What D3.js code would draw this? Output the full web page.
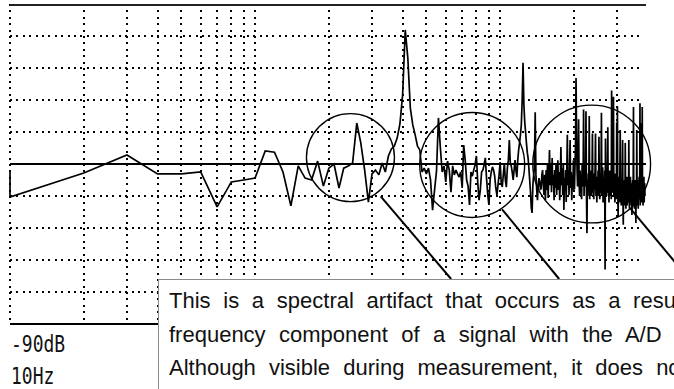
<!DOCTYPE html>
<html><head><meta charset="utf-8">
<script src="https://cdn.jsdelivr.net/npm/d3@7"></script>
<style>html,body{margin:0;padding:0;background:#fff;overflow:hidden}</style>
</head><body><svg id="c" width="674" height="389"></svg>
<script>
// ---- data ----
const binHz = 10;               // FFT bin spacing; bin i is at i*binHz (0 Hz drawn at left edge)
const levelsDb = [
 -41.9,-50.3,-42.8,-37.2,-43.1,-43.1,-42.5,-53.4,-45.6,-45.0,
 -44.4,-35.9,-36.3,-42.5,-53.1,-40.6,-44.4,-45.0,-39.1,-46.9,
 -41.3,-40.0,-47.5,-41.3,-40.6,-39.7,-27.2,-33.4,-41.9,-51.9,
 -43.1,-41.9,-43.4,-39.7,-42.5,-37.5,-35.3,-34.4,-31.9,-27.5,
 -18.4,1.9,-6.9,-22.5,-27.8,-30.9,-34.4,-35.6,-42.5,-41.3,
 -43.1,-41.3,-45.0,-54.4,-48.1,-42.2,-25.6,-34.7,-42.5,-40.6,
 -45.6,-39.1,-41.9,-48.8,-40.6,-43.4,-41.9,-43.1,-44.1,-42.5,
 -47.5,-34.1,-38.8,-45.0,-46.9,-52.8,-42.5,-43.8,-41.9,-40.3,
 -37.5,-45.6,-51.3,-48.1,-42.5,-41.9,-40.3,-38.1,-44.4,-49.7,
 -52.8,-45.0,-42.5,-40.9,-41.9,-43.8,-47.5,-49.7,-46.6,-43.4,
 -39.4,-45.9,-47.2,-43.4,-39.7,-45.0,-47.2,-41.3,-38.8,-32.5,
 -39.7,-40.6,-42.5,-45.0,-41.9,-38.8,-41.9,-44.1,-38.8,-35.6,
 -33.4,-30.9,-27.8,-20.0,-8.4,-21.6,-26.9,-30.0,-33.4,-36.3,
 -38.1,-41.3,-45.0,-48.8,-53.8,-55.3,-46.6,-43.4,-41.3,-23.8,
 -43.8,-48.1,-51.3,-46.6,-44.4,-45.6,-48.1,-47.5,-43.4,-41.9,
 -46.6,-49.7,-43.4,-51.3,-41.9,-48.1,-40.3,-50.6,-43.4,-35.6,
 -46.6,-40.3,-48.8,-38.1,-46.6,-43.4,-51.3,-41.9,-47.5,-40.3,
 -49.7,-44.4,-38.8,-48.1,-42.5,-51.3,-45.0,-34.7,-46.6,-41.3,
 -49.7,-39.7,-54.4,-44.4,-48.1,-41.9,-51.9,-43.4,-30.9,-46.6,
 -41.9,-49.7,-41.3,-32.5,-47.5,-42.5,-51.3,-43.4,-48.1,-38.8,
 -45.0,-48.0,-41.0,-34.0,-13.1,-30.0,-42.0,-47.0,-44.0,-26.0,
 -46,-50,-42,-49,-44,-51,-40,-47,-45,-23,
 -50,-42,-47,-44,-23.5,-49,-61.6,-45,-50,-43,
 -47,-25,-51,-44,-48,-42,-50,-45,-30.5,-49,
 -43,-51,-46,-48,-41,-30.5,-50,-44,-52,-45,
 -48,-42,-50,-31.5,-46,-51,-43,-49,-44,-24,
 -50,-45,-41,-52,-47,-44,-51,-42,-73,-32,
 -48,-43,-50,-45,-41,-28.5,-49,-44,-52,-46,
 -42,-50,-47,-44,-51,-17,-45,-49,-43,-48,
 -19,-50,-44,-47,-52,-43,-49,-46,-51,-27,
 -45,-22,-48,-56.5,-44,-50,-46,-52,-43,-29.4,
 -49,-45,-53,-47,-50,-44,-32.5,-51,-59,-46,
 -52,-48,-45,-53,-33.4,-49,-54,-46,-51,-44,
 -53,-47,-50,-45,-52,-32.5,-48,-54,-46,-51,
 -44,-52,-48,-53,-46,-55.9,-50,-45,-53,-47,
 -22.2,-51,-46,-54,-48,-52,-45,-50,-58.4,-47,
 -53,-29.4,-48,-52,-45,-50,-54,-46,-51,-44,
 -50,-47,-21,-53,-46,-51,-48,-44,-27.2,-52,
 -22.2,-49,-45,-53,-47,-50,-44,-52,-48,-46,
 -50
];
const freqDomainHz = [10, 3900];
const levelDomainDb = [-90, 10];
const freqGridHz = [10,20,30,40,50,60,70,80,90,100,200,300,400,500,600,700,800,900,1000,2000,3000];
const levelGridDb = [0,-10,-20,-30,-50,-60,-70,-80];
const referenceDb = -40;
const cornerLabels = ["-90dB", "10Hz"];
const noteLines = [
 "This is a spectral artifact that occurs as a result of sampling the high",
 "frequency component of a signal with the A/D converter.",
 "Although visible during measurement, it does not exist in the signal."
];
// annotation circles: centre (Hz, dB), radius (dB), leader angle (deg), leader end (Hz on box top)
const circleCentreHz = [245, 769, 2363];
const circleCentreDb = [-38.0, -40.3, -40.0];
const circleRadiusDb = [13.75, 16.4, 18.4];
const leaderAngleDeg = [52, 56, 49];
const leaderGapDb = [1.6, 0.3, 0];
const leaderEndHz = [631, 1741, 5900];

// ---- layout ----
const svg = d3.select("#c");
const x = d3.scaleLog().domain(freqDomainHz).range([10, 645]);
const y = d3.scaleLinear().domain(levelDomainDb).range([324, 4]);
const pxPerDb = Math.abs(y(0) - y(1));
const boxTop = 279, boxLeft = 158;

// grid
const g = svg.append("g").attr("shape-rendering", "crispEdges");
g.selectAll(".vg").data(freqGridHz).join("line")
  .attr("x1", d => Math.round(x(d))).attr("x2", d => Math.round(x(d)))
  .attr("y1", y(levelDomainDb[1])).attr("y2", y(levelDomainDb[0]))
  .attr("stroke", "#000").attr("stroke-width", 2).attr("stroke-dasharray", "2,4.4");
g.selectAll(".hg").data(levelGridDb).join("line")
  .attr("x1", x(freqDomainHz[0])).attr("x2", x(freqDomainHz[1]) - 3)
  .attr("y1", d => y(d)).attr("y2", d => y(d))
  .attr("stroke", "#000").attr("stroke-width", 2).attr("stroke-dasharray", "2,4.4");

// solid frame lines
[levelDomainDb[1], referenceDb, levelDomainDb[0]].forEach((v, i) => {
  g.append("line")
    .attr("x1", x(freqDomainHz[0])).attr("x2", x(freqDomainHz[1]) + 1)
    .attr("y1", y(v) + (i === 0 ? 1 : 0)).attr("y2", y(v) + (i === 0 ? 1 : 0))
    .attr("stroke", i === 0 ? "#222" : "#000").attr("stroke-width", 2);
});

// trace
const line = d3.line()
  .x((d, i) => x(Math.max(i * binHz, freqDomainHz[0])))
  .y(d => y(d));
svg.append("path").datum(levelsDb)
  .attr("d", line).attr("fill", "none").attr("stroke", "#000")
  .attr("stroke-width", 1.7).attr("stroke-linejoin", "miter").attr("stroke-miterlimit", 2);

// annotation circles and leaders
circleCentreHz.forEach((f, i) => {
  const cx = x(f), cy = y(circleCentreDb[i]), r = circleRadiusDb[i] * pxPerDb;
  svg.append("circle").attr("cx", cx).attr("cy", cy).attr("r", r)
    .attr("fill", "none").attr("stroke", "#000").attr("stroke-width", 1.4);
  const a = leaderAngleDeg[i] * Math.PI / 180;
  const rr = r + leaderGapDb[i] * pxPerDb;
  const sx = cx + rr * Math.cos(a), sy = cy + rr * Math.sin(a);
  const ex = x(leaderEndHz[i]);
  svg.append("line").attr("x1", sx).attr("y1", sy).attr("x2", ex).attr("y2", boxTop)
    .attr("stroke", "#000").attr("stroke-width", 2);
});

// corner labels (tall, narrow terminal-style glyphs)
svg.selectAll(".cl").data(cornerLabels).join("text")
  .attr("transform", (d, i) => `translate(11,${352 + i * 32}) scale(1,1.3)`)
  .attr("font-family", "DejaVu Sans Mono, monospace").attr("font-size", 18)
  .attr("fill", "#111").text(d => d);

// note box
svg.append("rect").attr("x", boxLeft + 0.5).attr("y", boxTop + 0.5)
  .attr("width", 700).attr("height", 200)
  .attr("fill", "#fff").attr("stroke", "#8a8a8a").attr("stroke-width", 1);
const spacing = [6.6, 7.3, 7.0];
svg.selectAll(".nt").data(noteLines).join("text")
  .attr("x", 169).attr("y", (d, i) => 308 + i * 33.6)
  .attr("font-family", "Liberation Sans, Arial, sans-serif").attr("font-size", 22)
  .attr("fill", "#111").style("word-spacing", (d, i) => spacing[i] + "px")
  .text(d => d);
</script>
</body></html>
